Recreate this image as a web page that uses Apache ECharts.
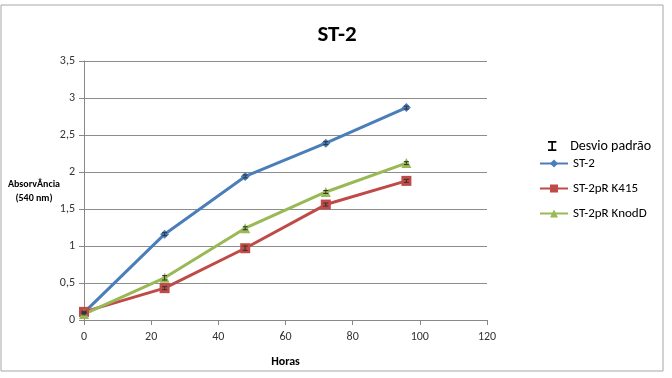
<!DOCTYPE html>
<html>
<head>
<meta charset="utf-8">
<script src="https://cdn.jsdelivr.net/npm/echarts@6/dist/echarts.min.js"></script>
<style>
  html, body { margin: 0; padding: 0; background: #fff; }
  #chart { width: 672px; height: 378px; }
</style>
</head>
<body>
<div id="chart"></div>
<script>
// horas
const hours = [0, 24, 48, 72, 96]
const st2 = [0.10, 1.16, 1.94, 2.39, 2.87]
const k415 = [0.11, 0.43, 0.97, 1.56, 1.88]
const knodD = [0.08, 0.57, 1.24, 1.73, 2.12]
// desvio padrão (estimado)
const errSt2 = [0.01, 0.02, 0.02, 0.02, 0.02]
const errK415 = [0.01, 0.02, 0.03, 0.02, 0.02]
const errKnodD = [0.01, 0.03, 0.02, 0.02, 0.02]
const yTicks = ['0', '0,5', '1', '1,5', '2', '2,5', '3', '3,5']

const pairs = (ys) => hours.map((h, i) => [h, ys[i]])
const errData = []
;[[st2, errSt2], [k415, errK415], [knodD, errKnodD]].forEach(([ys, es]) => {
  hours.forEach((h, i) => errData.push([h, ys[i] - es[i], ys[i] + es[i]]))
})

const chart = echarts.init(document.getElementById('chart'))
const font = 'Carlito, Lato, "Liberation Sans", Arial, sans-serif'
const ibeam = 'path://M0,0 L10,0 L10,2 L6,2 L6,10 L10,10 L10,12 L0,12 L0,10 L4,10 L4,2 L0,2 Z'

chart.setOption({
  animation: false,
  textStyle: { fontFamily: font },
  title: {
    text: 'ST-2',
    left: 332,
    top: 19,
    textAlign: 'center',
    textStyle: { fontSize: 23, fontWeight: 'bold', color: '#000' }
  },
  graphic: [
    {
      type: 'rect',
      shape: { x: 1, y: 5, width: 662, height: 366 },
      style: { fill: 'none', stroke: '#a6a6a6', lineWidth: 1 },
      silent: true
    },
    {
      type: 'text',
      x: 34,
      y: 177,
      style: {
        text: 'AbsorvÂncia\n(540 nm)',
        font: 'bold 10px ' + font,
        fill: '#000',
        align: 'center',
        lineHeight: 14
      }
    }
  ],
  legend: [
    {
      orient: 'vertical', left: 548, top: 139, padding: 0, itemWidth: 10, itemHeight: 10,
      data: [{ name: 'Desvio padrão', icon: ibeam }],
      textStyle: { fontSize: 14, color: '#000', padding: [0, 0, 0, 8] }
    },
    {
      orient: 'vertical', left: 539, top: 157, padding: 0, itemWidth: 28, itemHeight: 10,
      data: ['ST-2'], textStyle: { fontSize: 13, color: '#000' }
    },
    {
      orient: 'vertical', left: 539, top: 182, padding: 0, itemWidth: 28, itemHeight: 10,
      data: ['ST-2pR K415'], textStyle: { fontSize: 13, color: '#000' }
    },
    {
      orient: 'vertical', left: 539, top: 207, padding: 0, itemWidth: 28, itemHeight: 10,
      data: ['ST-2pR KnodD'], textStyle: { fontSize: 13, color: '#000' }
    }
  ],
  grid: { left: 84, right: 185, top: 61, bottom: 58 },
  xAxis: {
    type: 'value',
    min: 0,
    max: 120,
    interval: 20,
    name: 'Horas',
    nameLocation: 'middle',
    nameGap: 36,
    nameTextStyle: { fontWeight: 'bold', fontSize: 12, color: '#000' },
    axisLine: { lineStyle: { color: '#888' } },
    axisTick: { show: true, length: 5, lineStyle: { color: '#888' } },
    axisLabel: { fontSize: 12, color: '#333', margin: 11 },
    splitLine: { show: false }
  },
  yAxis: {
    type: 'value',
    min: 0,
    max: 3.5,
    interval: 0.5,
    axisLine: { show: true, lineStyle: { color: '#888' } },
    axisTick: { show: true, length: 5, lineStyle: { color: '#888' } },
    axisLabel: {
      fontSize: 12,
      color: '#333',
      margin: 9,
      formatter: (v) => yTicks[Math.round(v / 0.5)]
    },
    splitLine: { lineStyle: { color: '#8c8c8c', width: 1 } }
  },
  series: [
    {
      name: 'ST-2', type: 'line', data: pairs(st2),
      symbol: 'diamond', symbolSize: 9,
      itemStyle: { color: '#4a7ebb' }, lineStyle: { width: 3, color: '#4a7ebb' }
    },
    {
      name: 'ST-2pR K415', type: 'line', data: pairs(k415),
      symbol: 'rect', symbolSize: 10,
      itemStyle: { color: '#be4b48' }, lineStyle: { width: 3, color: '#be4b48' }
    },
    {
      name: 'ST-2pR KnodD', type: 'line', data: pairs(knodD),
      symbol: 'triangle', symbolSize: 10,
      itemStyle: { color: '#98b954' }, lineStyle: { width: 3, color: '#98b954' }
    },
    {
      name: 'Desvio padrão', type: 'custom', data: errData,
      itemStyle: { color: '#000' },
      z: 5,
      renderItem: (params, api) => {
        const x = api.value(0)
        const lo = api.coord([x, api.value(1)])
        const hi = api.coord([x, api.value(2)])
        const w = 2.5
        const style = { stroke: '#333', lineWidth: 1, fill: null }
        return {
          type: 'group',
          children: [
            { type: 'line', shape: { x1: lo[0], y1: lo[1], x2: hi[0], y2: hi[1] }, style },
            { type: 'line', shape: { x1: lo[0] - w, y1: lo[1], x2: lo[0] + w, y2: lo[1] }, style },
            { type: 'line', shape: { x1: hi[0] - w, y1: hi[1], x2: hi[0] + w, y2: hi[1] }, style }
          ]
        }
      }
    }
  ]
})
</script>
</body>
</html>
